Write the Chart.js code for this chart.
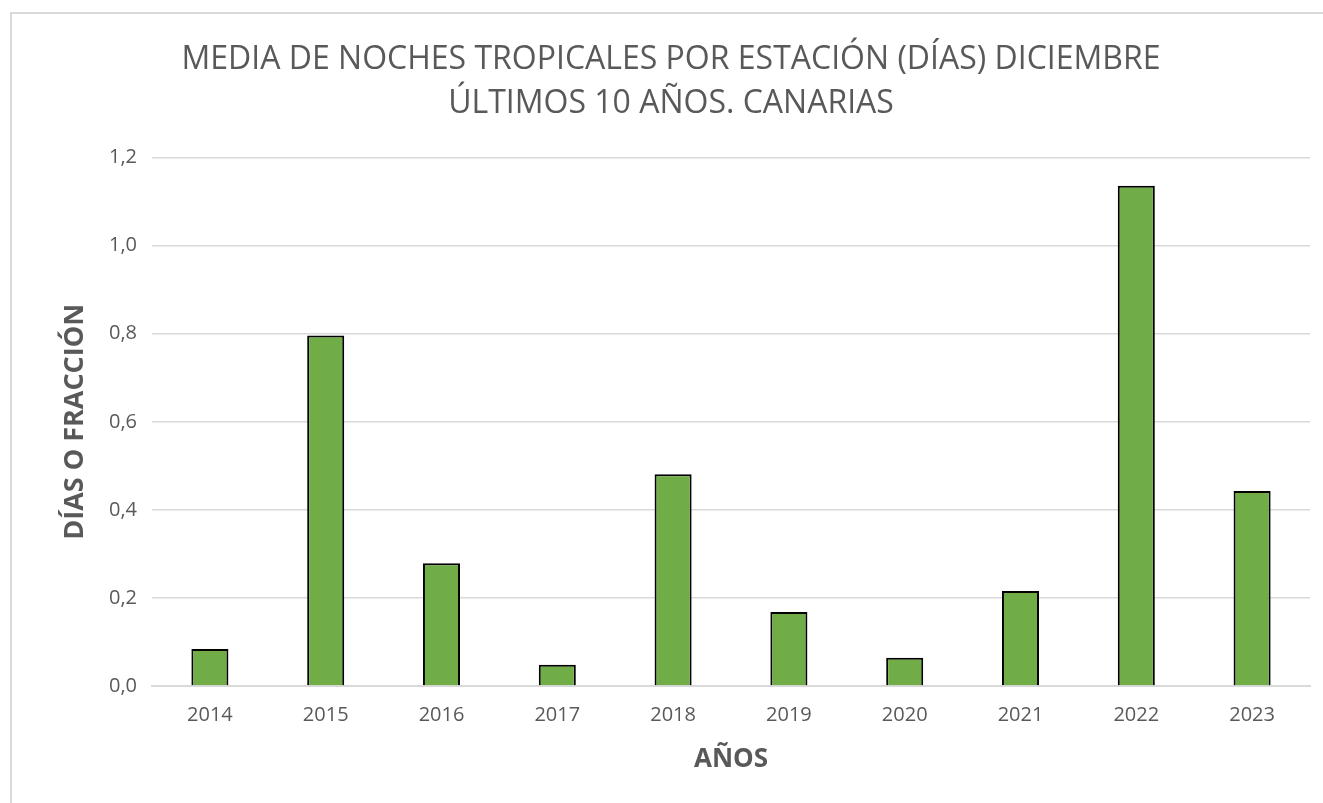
<!DOCTYPE html>
<html>
<head>
<meta charset="utf-8">
<script src="https://cdn.jsdelivr.net/npm/chart.js@4"></script>
<style>
  html, body { margin: 0; padding: 0; background: #fff; overflow: hidden; }
  #wrap { position: relative; width: 1323px; height: 803px; }
  #frame { position: absolute; left: 10px; top: 12px; width: 1400px; height: 900px; border: 2px solid #d9d9d9; box-sizing: border-box; }
  canvas { position: absolute; left: 0; top: 0; }
</style>
</head>
<body>
<div id="wrap">
  <div id="frame"></div>
  <canvas id="c" width="1323" height="803"></canvas>
</div>
<script>
const categories = ['2014','2015','2016','2017','2018','2019','2020','2021','2022','2023'];
const values = [0.084, 0.796, 0.279, 0.048, 0.481, 0.168, 0.064, 0.216, 1.136, 0.443];
const titleLines = ['MEDIA DE NOCHES TROPICALES POR ESTACIÓN (DÍAS) DICIEMBRE', 'ÚLTIMOS 10 AÑOS. CANARIAS'];
const yAxisTitle = 'DÍAS O FRACCIÓN';
const xAxisTitle = 'AÑOS';

const FONT = '"Open Sans", "Liberation Sans", sans-serif';
const GREY = '#595959';

new Chart(document.getElementById('c'), {
  type: 'bar',
  data: {
    labels: categories,
    datasets: [{
      data: values,
      backgroundColor: '#70AD47',
      borderColor: '#000000',
      borderWidth: 2,
      borderSkipped: 'start',
      barPercentage: 0.32,
      categoryPercentage: 1.0
    }]
  },
  options: {
    responsive: false,
    animation: false,
    layout: { padding: { left: 32, right: 13, top: 0, bottom: 0 } },
    plugins: {
      legend: { display: false },
      tooltip: { enabled: false },
      title: {
        display: true,
        text: titleLines,
        color: GREY,
        font: { family: FONT, size: 32, weight: 'normal', lineHeight: 1.4 },
        padding: { top: 37, bottom: 31 }
      }
    },
    scales: {
      x: {
        grid: { display: false, drawTicks: false },
        border: { display: true, color: '#d9d9d9', width: 2 },
        ticks: { color: GREY, font: { family: FONT, size: 20 }, padding: 17 },
        title: {
          display: true, text: xAxisTitle, color: GREY,
          font: { family: FONT, size: 26, weight: 'bold', lineHeight: 1.2 },
          padding: { top: 0, bottom: 28 }
        },
        afterFit: (s) => { s.height = 117; }
      },
      y: {
        min: 0, max: 1.2,
        grid: { color: '#d9d9d9', lineWidth: 1.5, drawTicks: false },
        border: { display: false },
        ticks: {
          stepSize: 0.2, color: GREY, padding: 15,
          font: { family: FONT, size: 20 },
          callback: (v) => v.toFixed(1).replace('.', ',')
        },
        title: {
          display: true, text: yAxisTitle, color: GREY,
          font: { family: FONT, size: 27, weight: 'bold', lineHeight: 1.2 },
          padding: { top: 27, bottom: 0 }
        },
        afterFit: (s) => { s.width = 120; }
      }
    }
  }
});
</script>
</body>
</html>
